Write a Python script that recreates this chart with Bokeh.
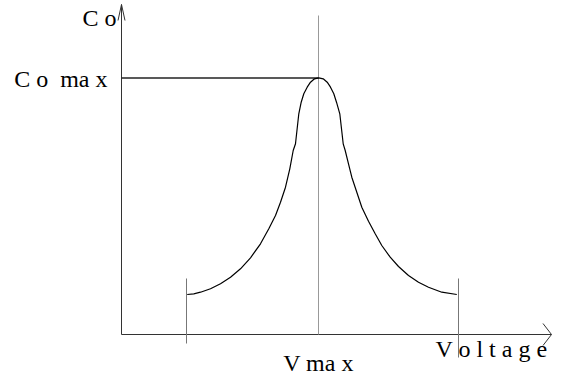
from bokeh.plotting import figure
from bokeh.models import Range1d
from bokeh.embed import file_html
from bokeh.resources import INLINE
from bokeh.core.properties import value

# Curve (arbitrary units: voltage along x, Co along y)
voltage = [65.7, 72.3, 79, 89, 99, 109, 119, 129, 139, 147.3, 154, 159, 164, 168.3, 171.7,
           174, 177.3, 179.7, 182.3, 185.7, 189, 193, 197.3,
           201.7, 205.7, 209, 212.3, 215, 218.3, 221.7,
           223.7, 227, 230.3, 235.3, 240.3, 247, 253.7, 260.3, 268.7, 277, 287, 297, 307,
           320.3, 335.3]
co = [40, 40.7, 42.3, 45.7, 50.7, 57.3, 65.7, 76.7, 90.7, 105.7, 119, 132.3, 147.3, 165.7, 184,
      190.7, 220.7, 232.3, 240.7, 247.3, 252.3, 255.7, 256.7,
      255.7, 252.3, 247.3, 240.7, 232.3, 220.7, 190.7,
      184, 170.7, 157.3, 142.3, 127.3, 113.3, 100.7, 89, 77.3, 68, 59, 52.3, 47.3,
      42.3, 40]

v_max = 197
co_max = 256.5
v_low = 65
v_high = 337
axis_top = 330
axis_right = 430

labels = ["C o", "C o\u00a0 ma x", "V ma x", "V o l t a g e"]

FONT = "Liberation Serif"
LIFT = 9  # compensation for the text baseline offset

p = figure(width=565, height=378, output_backend="svg", toolbar_location=None,
           x_range=Range1d(-121, 444), y_range=Range1d(-44, 334),
           min_border=0, outline_line_color=None)
p.axis.visible = False
p.grid.visible = False

# axes
p.segment(x0=[0, 0], y0=[0, 0], x1=[0, axis_right], y1=[axis_top, 0],
          line_color="#333333", line_width=1)
# arrow heads
p.line(x=[-3.5, 0, 3.5], y=[axis_top - 16, axis_top, axis_top - 16],
       line_color="#333333", line_width=1)
p.line(x=[axis_right - 8.5, axis_right, axis_right - 8.5], y=[11, 0, -11],
       line_color="#333333", line_width=1)

# Vmax vertical line
p.segment(x0=[v_max], y0=[0], x1=[v_max], y1=[319], line_color="#999999", line_width=1)
# Co max horizontal line
p.segment(x0=[0], y0=[co_max], x1=[v_max], y1=[co_max], line_color="#222222", line_width=1.3)
# limit ticks
p.segment(x0=[v_low, v_high], y0=[-9, -23], x1=[v_low, v_high], y1=[56, 56],
          line_color="#777777", line_width=1)

# curve
p.line(x=voltage, y=co, line_color="black", line_width=1.2, line_join="round")

# labels
p.text(x=[-5], y=[308 + LIFT], text=[labels[0]], text_font=value(FONT), text_font_size="24px",
       text_align="right", text_baseline="alphabetic", text_color="black")
p.text(x=[-14], y=[co_max - 10 + LIFT], text=[labels[1]], text_font=value(FONT), text_font_size="24px",
       text_align="right", text_baseline="alphabetic", text_color="black")
p.text(x=[v_max], y=[-37 + LIFT], text=[labels[2]], text_font=value(FONT), text_font_size="24px",
       text_align="center", text_baseline="alphabetic", text_color="black")
p.text(x=[314], y=[-23 + LIFT], text=[labels[3]], text_font=value(FONT), text_font_size="24px",
       text_align="left", text_baseline="alphabetic", text_color="black")

open("out.html", "w").write(file_html(p, INLINE))
